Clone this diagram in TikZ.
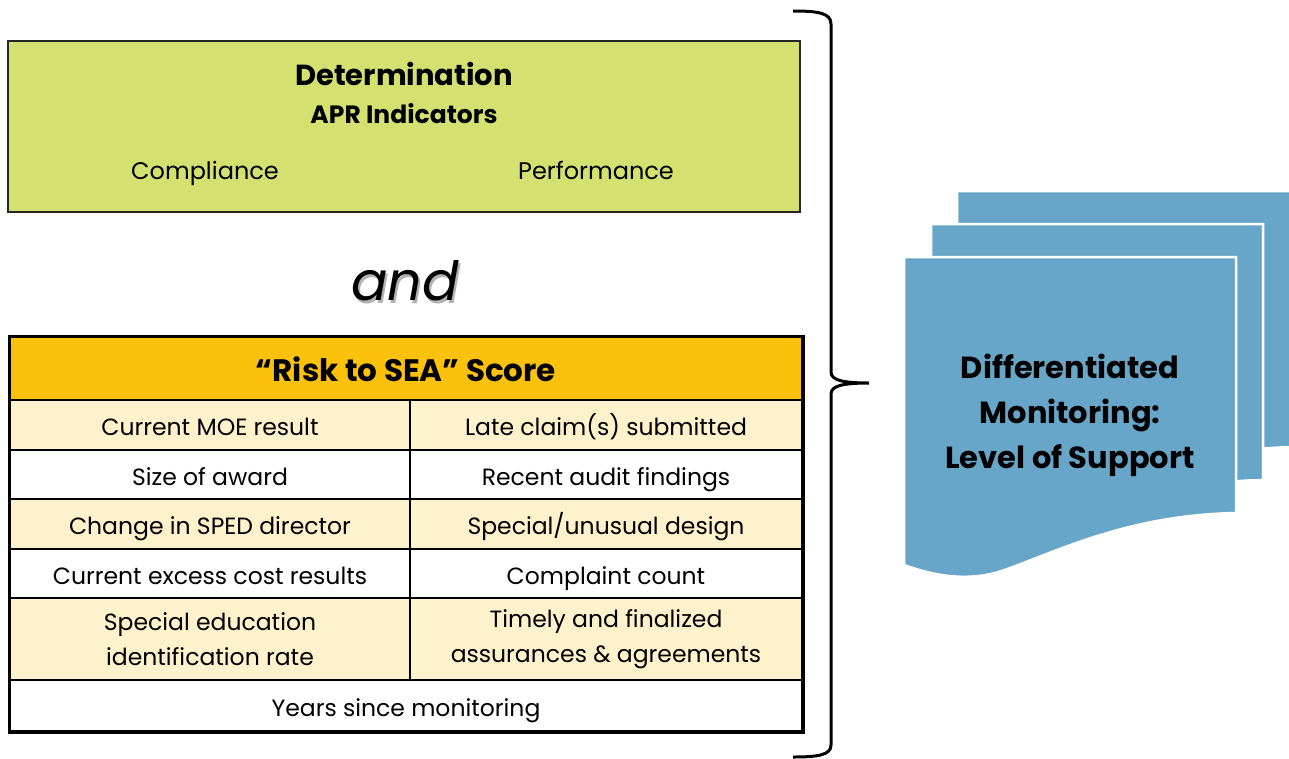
\documentclass[tikz,border=0pt]{standalone}
\usepackage{fontspec}
\setmainfont{Poppins}
\definecolor{detgreen}{HTML}{D4E070}
\definecolor{riskamber}{HTML}{FCC10A}
\definecolor{rowcream}{HTML}{FEF2CC}
\definecolor{docblue}{HTML}{67A6C8}
\newcommand{\shadowed}[1]{\makebox[0pt][l]{\hspace{2pt}\raisebox{-3pt}{\textcolor{black!30}{#1}}}#1}

\begin{document}
\begin{tikzpicture}
            [x=1pt, y=-1pt, semithick,
             txt/.style={inner sep=0pt, anchor=base},
             twoline/.style={draw=black, line width=1.5pt, inner sep=0pt, align=center, font=\fontsize{23.5}{35}\selectfont},
             cell/.style={twoline, text height=22pt, text depth=1pt},
             cream/.style={cell, fill=rowcream},
             plain/.style={cell, fill=white},
             page/.style={fill=docblue, draw=white, line width=2.5pt}]
            \useasboundingbox (0, 0) rectangle (1289, 758);

            \node[draw=black!85, line width=2pt, fill=detgreen, minimum width=792, minimum height=171] (detbox) at (404, 126.5) {};
            \node[txt, font=\fontsize{29}{34}\selectfont\bfseries] (det) at (404, 85) {Determination};
            \node[txt, font=\fontsize{25}{30}\selectfont\bfseries] (apr) at (404, 123) {APR Indicators};
            \node[txt, font=\fontsize{24}{28}\selectfont] (compl) at (205, 179) {Compliance};
            \node[txt, font=\fontsize{24}{28}\selectfont] (perf) at (596, 179) {Performance};

            \node[txt, font=\fontsize{54}{60}\selectfont\itshape] (and) at (405, 300) {\shadowed{and}};

            \node[cell, fill=riskamber, minimum width=792, minimum height=63, text height=26pt, font=\fontsize{31}{36}\selectfont\bfseries] (risk) at (406, 368.5) {“Risk to SEA” Score};
            \node[cream, minimum width=400, minimum height=50] (moe) at (210, 425) {Current MOE result};
            \node[cream, minimum width=392, minimum height=50] (late) at (606, 425) {Late claim(s) submitted};
            \node[plain, minimum width=400, minimum height=49] (award) at (210, 474.5) {Size of award};
            \node[plain, minimum width=392, minimum height=49] (audit) at (606, 474.5) {Recent audit findings};
            \node[cream, minimum width=400, minimum height=50] (sped) at (210, 524) {Change in SPED director};
            \node[cream, minimum width=392, minimum height=50] (design) at (606, 524) {Special/unusual design};
            \node[plain, minimum width=400, minimum height=49] (excess) at (210, 573.5) {Current excess cost results};
            \node[plain, minimum width=392, minimum height=49] (complaint) at (606, 573.5) {Complaint count};
            \node[twoline, fill=rowcream, minimum width=400, minimum height=82] (ident) at (210, 639) {Special education\\identification rate};
            \node[twoline, fill=rowcream, minimum width=392, minimum height=82] (assur) at (606, 639) {Timely and finalized\\assurances \& agreements};
            \node[plain, minimum width=792, minimum height=51] (years) at (406, 705.5) {Years since monitoring};
            \draw[line width=3.5pt] (risk.north west) rectangle (years.south east);

            \draw[line width=3pt] (793, 11) .. controls (818, 11) and (831, 13) .. (831, 24) -- (831, 372)
                .. controls (831, 380) and (842, 383) .. (869, 383)
                .. controls (842, 383) and (831, 386) .. (831, 394) -- (831, 745)
                .. controls (831, 755) and (818, 757) .. (793, 757);

            \path[page] (957, 191) -- (1295, 191) -- (1295, 447) .. controls (1184, 449) and (1114, 484) .. (1064, 502)
                .. controls (1029, 516) and (994, 512) .. (958, 499) -- cycle;
            \path[page] (931, 224) -- (1263, 224) -- (1263, 480) .. controls (1157, 482) and (1087, 517) .. (1037, 535)
                .. controls (1002, 549) and (967, 545) .. (931, 532) -- cycle;
            \path[page] (904, 257) -- (1236, 257) -- (1236, 513) .. controls (1130, 515) and (1060, 550) .. (1010, 568)
                .. controls (975, 582) and (940, 578) .. (904, 565) -- cycle;
            \node[inner sep=0pt, align=center, font=\fontsize{30.5}{45}\selectfont\bfseries] (level) at (1070, 415) {Differentiated\\Monitoring:\\Level of Support};
        \end{tikzpicture}
\end{document}
